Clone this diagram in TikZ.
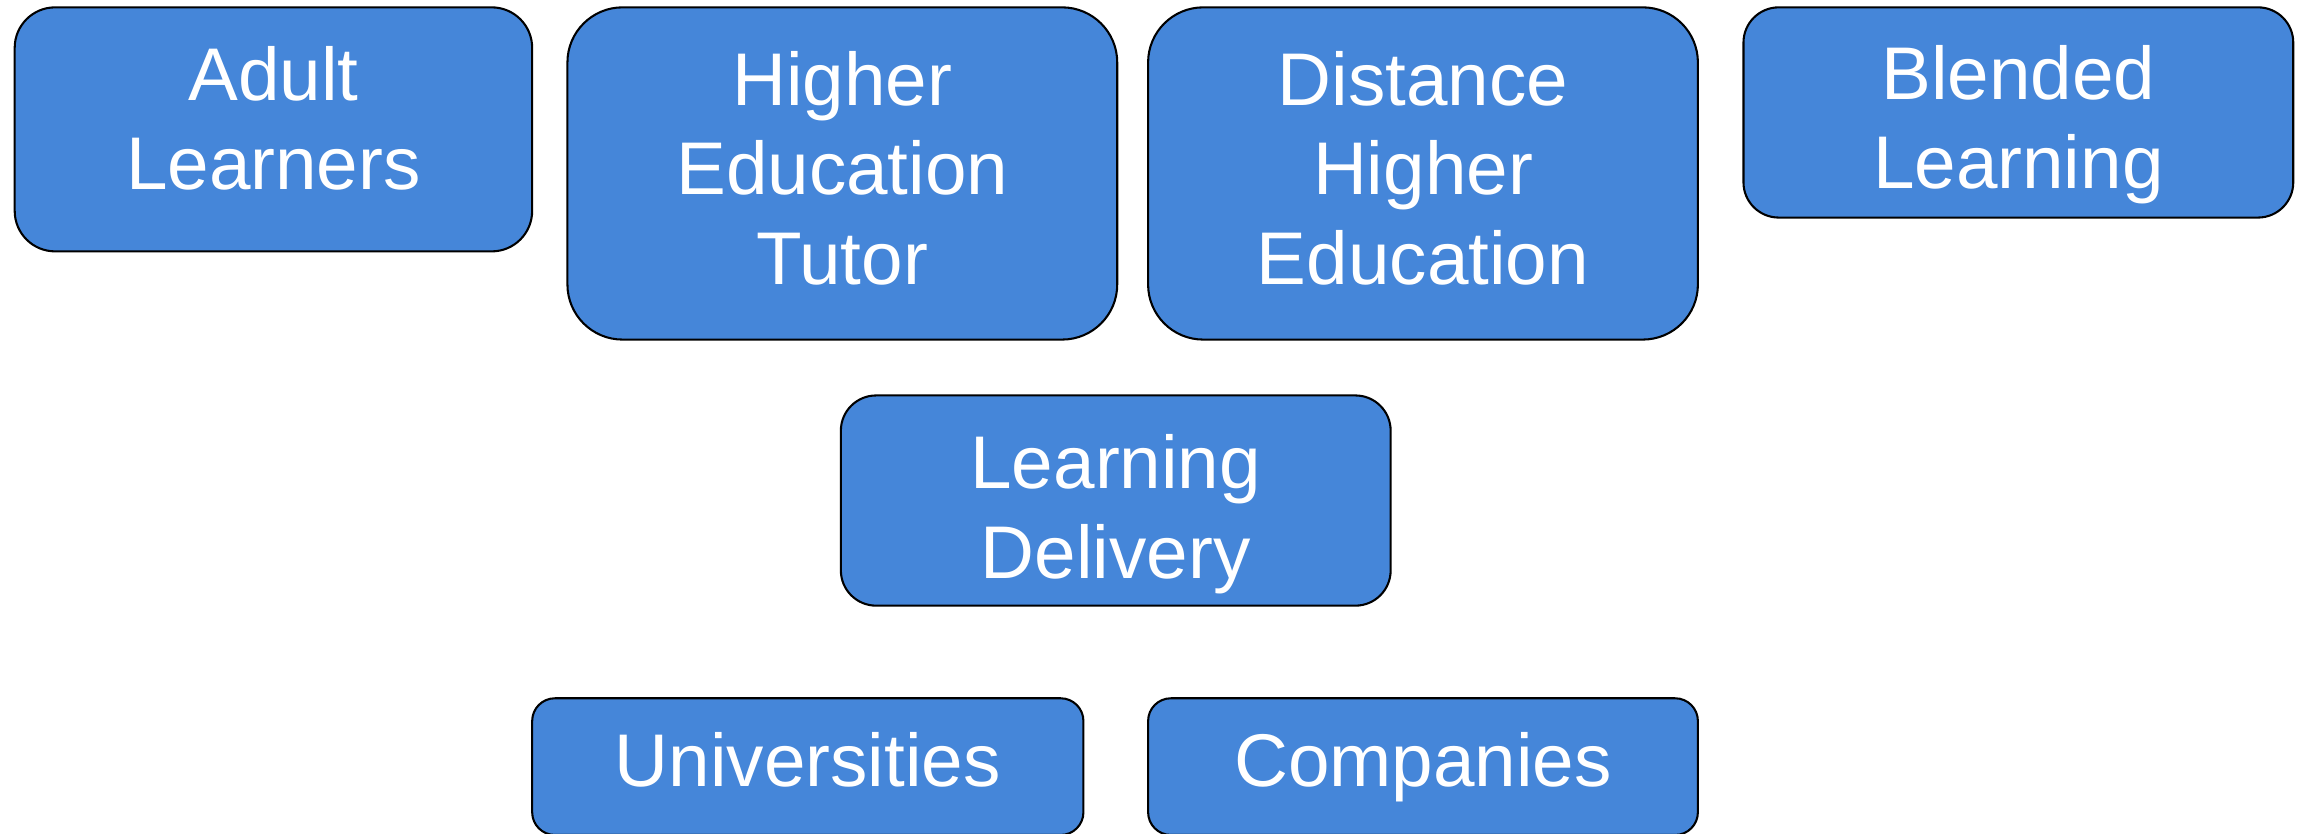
\documentclass[tikz,border=0pt]{standalone}
\usepackage{fontspec}
\setmainfont{Liberation Sans}
\definecolor{boxblue}{HTML}{4586D9}
\tikzset{
  box/.style={draw = black, line width = .8pt, fill = boxblue, inner sep = 0pt, minimum width = 7.48cm},
  txt/.style={text = white, align = center, inner sep = 0pt, anchor = north,
    font = \fontsize{28.9pt}{34.6pt}\selectfont}
}
\begin{document}
\begin{tikzpicture}
      \useasboundingbox(0, 0) rectangle (31.36, -11.34);
      \node[box, minimum width = 7.04cm, minimum height = 3.32cm, rounded corners = .55cm] at(3.72, -1.76)(adult){};
      \node[box, minimum height = 4.52cm, rounded corners = .75cm] at(11.46, -2.36)(tutor){};
      \node[box, minimum height = 4.52cm, rounded corners = .75cm] at(19.36, -2.36)(distance){};
      \node[box, minimum height = 2.86cm, rounded corners = .48cm] at(27.46, -1.53)(blended){};
      \node[box, minimum height = 2.86cm, rounded corners = .48cm] at(15.18, -6.81)(delivery){};
      \node[box, minimum width = 7.5cm, minimum height = 1.86cm, rounded corners = .31cm] at(10.99, -10.43)(universities){};
      \node[box, minimum height = 1.86cm, rounded corners = .31cm] at(19.36, -10.43)(companies){};
      \node[txt] at([yshift = -.534cm]adult.north)(adultText){Adult\\Learners};
      \node[txt] at([yshift = -.604cm]tutor.north)(tutorText){Higher\\Education\\Tutor};
      \node[txt] at([yshift = -.604cm]distance.north)(distanceText){Distance\\Higher\\Education};
      \node[txt] at([yshift = -.526cm]blended.north)(blendedText){Blended\\Learning};
      \node[txt] at([yshift = -.54cm]delivery.north)(deliveryText){Learning\\Delivery};
      \node[txt] at([yshift = -.476cm]universities.north)(universitiesText){Universities};
      \node[txt] at([yshift = -.476cm]companies.north)(companiesText){Companies};
      \end{tikzpicture}
\end{document}
